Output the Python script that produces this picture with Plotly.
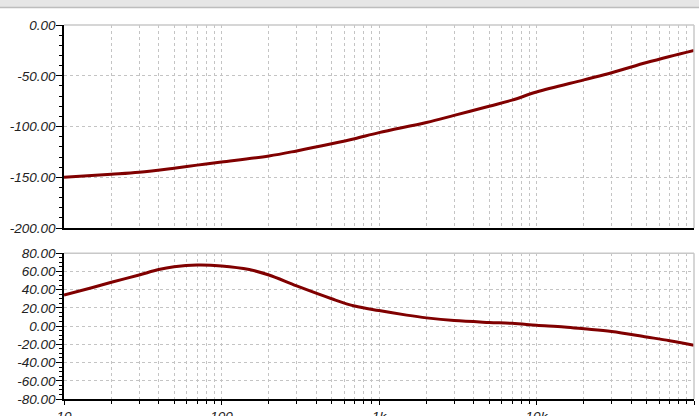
import plotly.graph_objects as go

# ---- data ----
freq_gain = [10, 20, 30, 50, 70, 100, 200, 300, 500, 700, 1000, 2000, 3000, 5000, 7000,
             10000, 20000, 30000, 50000, 70000, 100000]
gain_db = [-150, -147, -145, -141, -138, -135, -129, -124, -117, -112, -106, -96, -89, -80, -74,
           -66, -54, -47, -37, -31, -25]

freq_phase = [10, 15, 20, 30, 40, 50, 70, 100, 150, 200, 300, 500, 700, 1000, 1500, 2000, 3000,
              5000, 7000, 10000, 15000, 20000, 30000, 50000, 70000, 100000]
phase_deg = [34, 42, 48, 56, 62, 65, 67, 66, 62, 56, 44, 30, 22, 17, 12, 9, 6,
             4, 3, 1, -1, -3, -6, -12, -16, -21]

x_tickvals = [10, 100, 1000, 10000, 100000]
x_ticktext = ["10", "100", "1k", "10k", "100k"]
x_minorvals = [m * d for d in [10, 100, 1000, 10000] for m in range(2, 10)]

gain_tickvals = [0, -50, -100, -150, -200]
gain_ticktext = ["0.00", "-50.00", "-100.00", "-150.00", "-200.00"]
phase_tickvals = [80, 60, 40, 20, 0, -20, -40, -60, -80]
phase_ticktext = ["80.00", "60.00", "40.00", "20.00", "0.00", "-20.00", "-40.00", "-60.00", "-80.00"]


def ital(labels):
    return ["<i>" + t + "</i>" for t in labels]


LINE = "#800000"
GRID = "#c4c4c4"
DASH = "3px,3px"
FONT = dict(family="Liberation Sans, Arial", size=13.5, color="#222222")

fig = go.Figure()
fig.add_trace(go.Scatter(x=freq_gain, y=gain_db, mode="lines", line=dict(color=LINE, width=3, shape="spline"),
                         xaxis="x", yaxis="y", showlegend=False, hoverinfo="skip"))
fig.add_trace(go.Scatter(x=freq_phase, y=phase_deg, mode="lines", line=dict(color=LINE, width=3, shape="spline"),
                         xaxis="x2", yaxis="y2", showlegend=False, hoverinfo="skip"))

xcommon = dict(type="log", range=[1, 5], tickvals=x_tickvals, showgrid=True, gridcolor=GRID,
               griddash=DASH, gridwidth=1, showline=True, linecolor="black", linewidth=1.5,
               zeroline=False, automargin=False)

fig.update_layout(
    width=699, height=416,
    margin=dict(l=64, r=5, t=25, b=17),
    paper_bgcolor="white", plot_bgcolor="white",
    showlegend=False,
    xaxis=dict(**xcommon, domain=[0, 1], anchor="y", showticklabels=False, ticks="",
               minor=dict(tickvals=x_minorvals, showgrid=True, gridcolor=GRID, griddash=DASH,
                          gridwidth=1, ticks="")),
    yaxis=dict(domain=[0.457, 1], range=[-200, 0], tickvals=gain_tickvals, ticktext=ital(gain_ticktext),
               showgrid=True, gridcolor=GRID, griddash=DASH, showline=True, linecolor="black",
               linewidth=1.5, ticks="outside", ticklen=6, tickcolor="black", zeroline=False,
               tickfont=FONT, anchor="x", automargin=False, ticklabelstandoff=-2,
               minor=dict(dtick=10, ticks="outside", ticklen=3, tickcolor="black", showgrid=False)),
    xaxis2=dict(**xcommon, domain=[0, 1], anchor="y2", ticktext=ital(x_ticktext), ticks="outside",
                ticklen=4, tickcolor="black", tickfont=FONT, matches="x", ticklabelstandoff=0,
                minor=dict(tickvals=x_minorvals, showgrid=True, gridcolor=GRID, griddash=DASH,
                           gridwidth=1, ticks="outside", ticklen=3, tickcolor="black")),
    yaxis2=dict(domain=[0, 0.39], range=[-80, 80], tickvals=phase_tickvals, ticktext=ital(phase_ticktext),
                showgrid=True, gridcolor=GRID, griddash=DASH, showline=True, linecolor="black",
                linewidth=1.5, ticks="outside", ticklen=6, tickcolor="black", zeroline=False,
                tickfont=FONT, anchor="x2", automargin=False, ticklabelstandoff=-2,
                minor=dict(dtick=5, ticks="outside", ticklen=3, tickcolor="black", showgrid=False)),
)

# light gray top/right frame of both panels
for xr, yr in [("x domain", "y domain"), ("x2 domain", "y2 domain")]:
    fig.add_shape(type="line", xref=xr, yref=yr, x0=0, x1=1, y0=1, y1=1, line=dict(color="#c8c8c8", width=1.5))
    fig.add_shape(type="line", xref=xr, yref=yr, x0=1, x1=1, y0=0, y1=1, line=dict(color="#c8c8c8", width=1.5))

# toolbar strip at top of the window
fig.add_shape(type="rect", xref="paper", yref="paper", x0=-0.2, x1=1.1,
              y0=1 + 17 / 374, y1=1 + 26 / 374, line=dict(width=0), fillcolor="#e6e6e6", layer="above")
fig.add_shape(type="line", xref="paper", yref="paper", x0=-0.2, x1=1.1,
              y0=1 + 17.5 / 374, y1=1 + 17.5 / 374, line=dict(color="#bdbdbd", width=1.5), layer="above")

fig.write_html("out.html", config={"displayModeBar": False},
               post_script="document.body.style.margin='0';document.body.style.overflow='hidden';")
